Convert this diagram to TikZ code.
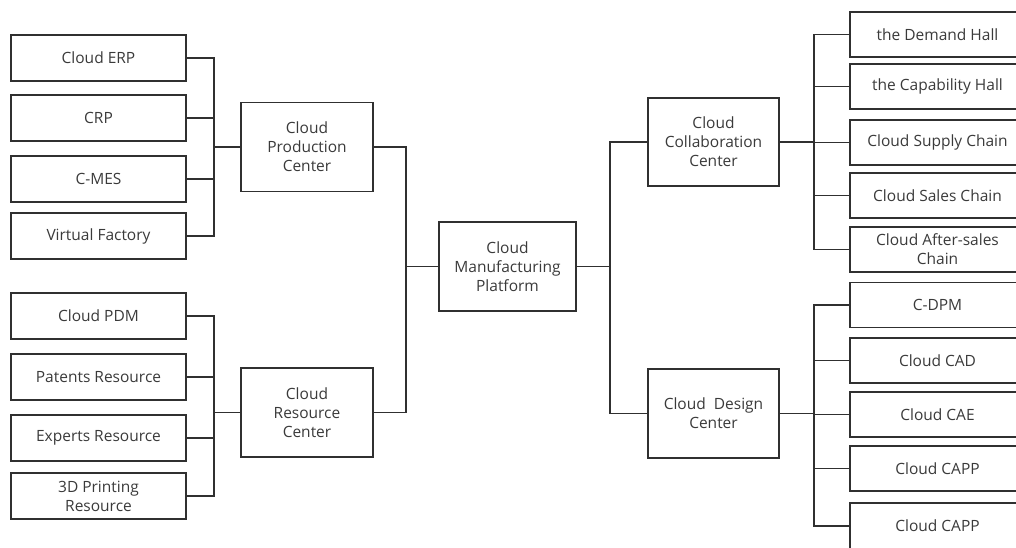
\documentclass[tikz,border=0pt]{standalone}
\usepackage{fontspec}
\setmainfont{Open Sans}
\definecolor{lc}{HTML}{303030}
\definecolor{tc}{HTML}{3A3A3A}
\begin{document}
\begin{tikzpicture}[x=1pt,y=-1pt,
  bx/.style={draw=lc,line width=1.8pt,rectangle,inner sep=0pt,text=tc,
    font=\fontsize{15.5}{19}\selectfont,align=center},
  leaf/.style={bx,minimum width=175pt,minimum height=46pt},
  hub/.style={bx,minimum width=132pt,minimum height=89pt},
  ln/.style={draw=lc,line width=1.8pt}]
\useasboundingbox (0,0) rectangle (1016,547);
\clip (0,0) rectangle (1016,547);
% left top
\node[leaf] (erp) at (98.5,58) {Cloud ERP};
\node[leaf] (crp) at (98.5,118) {CRP};
\node[leaf] (mes) at (98.5,179) {C-MES};
\node[leaf] (vf) at (98.5,236) {Virtual Factory};
\node[hub] (prod) at (307,147) {Cloud\\Production\\Center};
% left bottom
\node[leaf] (pdm) at (98.5,316) {Cloud PDM};
\node[leaf] (pat) at (98.5,377) {Patents Resource};
\node[leaf] (exp) at (98.5,438) {Experts Resource};
\node[leaf] (tdp) at (98.5,496) {3D Printing\\Resource};
\node[hub] (res) at (307,412.5) {Cloud\\Resource\\Center};
% center
\node[hub,minimum width=137pt] (plat) at (507.5,266.5) {Cloud\\Manufacturing\\Platform};
% right hubs
\node[hub,minimum width=131pt,minimum height=88pt] (col) at (713.5,142) {Cloud\\Collaboration\\Center};
\node[hub,minimum width=131pt] (des) at (713.5,413.5) {Cloud\ \ Design\\Center};
% right top leaves
\node[leaf,minimum height=45pt] (dh) at (937.5,34.5) {the Demand Hall};
\node[leaf,minimum height=45pt] (ch) at (937.5,86.5) {the Capability Hall};
\node[leaf,minimum height=45pt] (sc) at (937.5,142.5) {Cloud Supply Chain};
\node[leaf,minimum height=45pt] (sa) at (937.5,195.5) {Cloud Sales Chain};
\node[leaf,minimum height=45pt] (as) at (937.5,249.5) {Cloud After-sales\\Chain};
% right bottom leaves
\node[leaf,minimum height=45pt] (dpm) at (937.5,305) {C-DPM};
\node[leaf,minimum height=45pt] (cad) at (937.5,360.5) {Cloud CAD};
\node[leaf,minimum height=45pt] (cae) at (937.5,414.5) {Cloud CAE};
\node[leaf,minimum height=45pt] (capp) at (937.5,468.5) {Cloud CAPP};
\node[leaf,minimum height=46pt] (capp2) at (937.5,526) {Cloud CAPP};
% bus coordinates
\coordinate (b1) at (214,147);
\coordinate (b2) at (214,412.5);
\coordinate (mb) at (406,266.5);
\coordinate (rb) at (610,266.5);
\coordinate (cb) at (814,142);
\coordinate (db) at (814,413.5);
% connectors
\foreach \n in {erp,crp,mes,vf} \draw[ln] (\n.east) -| (b1);
\draw[ln] (b1) -- (prod.west);
\foreach \n in {pdm,pat,exp,tdp} \draw[ln] (\n.east) -| (b2);
\draw[ln] (b2) -- (res.west);
\draw[ln] (prod.east) -| (mb);
\draw[ln] (res.east) -| (mb);
\draw[ln] (mb) -- (plat.west);
\draw[ln] (plat.east) -- (rb);
\draw[ln] (rb) |- (col.west);
\draw[ln] (rb) |- (des.west);
\draw[ln] (col.east) -- (cb);
\foreach \n in {dh,ch,sc,sa,as} \draw[ln] (cb) |- (\n.west);
\draw[ln] (des.east) -- (db);
\foreach \n in {dpm,cad,cae,capp,capp2} \draw[ln] (db) |- (\n.west);
\end{tikzpicture}
\end{document}
